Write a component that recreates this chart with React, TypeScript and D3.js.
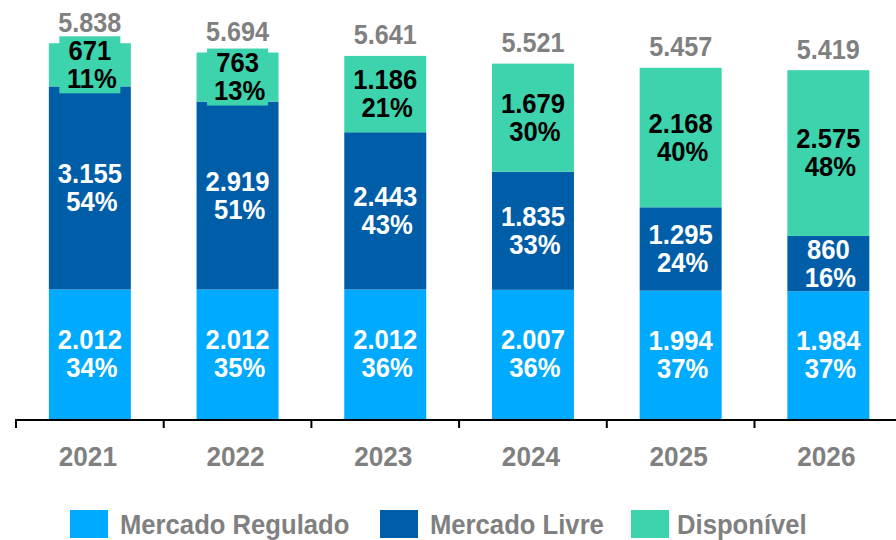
import React from "react";
import * as d3 from "d3";

const years = ["2021", "2022", "2023", "2024", "2025", "2026"];
const regulado = [2012, 2012, 2012, 2007, 1994, 1984];
const livre = [3155, 2919, 2443, 1835, 1295, 860];
const disponivel = [671, 763, 1186, 1679, 2168, 2575];
const pctRegulado = [34, 35, 36, 36, 37, 37];
const pctLivre = [54, 51, 43, 33, 24, 16];
const pctDisponivel = [11, 13, 21, 30, 40, 48];
const totals = [5838, 5694, 5641, 5521, 5457, 5419];
const seriesNames = ["Mercado Regulado", "Mercado Livre", "Disponível"];

const W = 896;
const H = 540;
const COLORS = ["#00AAFF", "#005EA8", "#3CD3AD"];
const TEXT_COLORS = ["#FFFFFF", "#FFFFFF", "#000000"];
const GRAY = "#808080";
const FONT = "'Liberation Sans', Arial, sans-serif";

const locale = d3.formatLocale({ decimal: ",", thousands: ".", grouping: [3], currency: ["R$", ""] });
const fmt = locale.format(",d");

function T(props: { x: number; y: number; sx: number; size: number; fill: string; anchor?: string; children: any }) {
  return (
    <text
      transform={`translate(${props.x},${props.y}) scale(${props.sx},1)`}
      textAnchor={props.anchor || "middle"}
      fontSize={props.size}
      fontWeight="bold"
      fill={props.fill}
    >
      {props.children}
    </text>
  );
}

export default function App() {
  const x = d3.scaleBand<string>().domain(years).range([16, 16 + 147.7 * 6]).paddingInner(0.445).paddingOuter(0.2225);
  const y = d3.scaleLinear().domain([0, 6000]).range([419, 32.8]);

  const table = years.map((yr, i) => ({
    year: yr,
    "Mercado Regulado": regulado[i],
    "Mercado Livre": livre[i],
    "Disponível": disponivel[i],
  }));
  const stacked = d3.stack<any>().keys(seriesNames)(table);
  const pcts = [pctRegulado, pctLivre, pctDisponivel];

  const step = x.step();
  const ticks = d3.range(years.length + 1).map((k) => 16 + k * step);

  const legendItems = [
    { sq: 70, tx: 120 },
    { sq: 380, tx: 430 },
    { sq: 631, tx: 677 },
  ];
  const SX = 0.915;

  return (
    <svg width={W} height={H} style={{ position: "absolute", left: 0, top: 0, background: "#fff" }} fontFamily={FONT}>
      {stacked.map((layer, si) => (
        <g key={seriesNames[si]}>
          {layer.map((d, i) => {
            const yr = years[i];
            const x0 = x(yr)!;
            const bw = x.bandwidth();
            const y0 = y(d[1]);
            const y1 = y(d[0]);
            return <rect key={yr} x={x0} y={y0} width={bw} height={y1 - y0} fill={COLORS[si]} />;
          })}
        </g>
      ))}
      {stacked.map((layer, si) => (
        <g key={"lab" + seriesNames[si]}>
          {layer.map((d, i) => {
            const yr = years[i];
            const cx = x(yr)! + x.bandwidth() / 2;
            const y0 = y(d[1]);
            const y1 = y(d[0]);
            const c = (y0 + y1) / 2;
            const small = y1 - y0 < 55;
            return (
              <g key={yr}>
                {small && <rect x={cx - 30.5} y={c - 28.5} width={61} height={57} fill={COLORS[si]} />}
                <T x={cx} y={c - 5} sx={SX} size={28} fill={TEXT_COLORS[si]}>
                  <tspan x={0} y={0}>{fmt(d[1] - d[0])}</tspan>
                  <tspan x={2 / SX} y={28}>{pcts[si][i] + "%"}</tspan>
                </T>
              </g>
            );
          })}
        </g>
      ))}
      {years.map((yr, i) => (
        <T key={"t" + yr} x={x(yr)! + x.bandwidth() / 2} y={y(totals[i]) - 11.5} sx={0.9} size={28} fill={GRAY}>
          {fmt(totals[i])}
        </T>
      ))}
      <line x1={16} x2={W} y1={420} y2={420} stroke="#000" strokeWidth={2} />
      {ticks.map((t) => (
        <line key={t} x1={t} x2={t} y1={419} y2={428} stroke="#000" strokeWidth={2} />
      ))}
      {years.map((yr) => (
        <T key={"x" + yr} x={x(yr)! + x.bandwidth() / 2 - 2} y={466} sx={0.97} size={27} fill={GRAY}>
          {yr}
        </T>
      ))}
      {seriesNames.map((name, i) => (
        <g key={"lg" + name}>
          <rect x={legendItems[i].sq} y={510} width={38} height={28} fill={COLORS[i]} />
          <T x={legendItems[i].tx} y={534} sx={0.95} size={27} fill={GRAY} anchor="start">
            {name}
          </T>
        </g>
      ))}
    </svg>
  );
}
